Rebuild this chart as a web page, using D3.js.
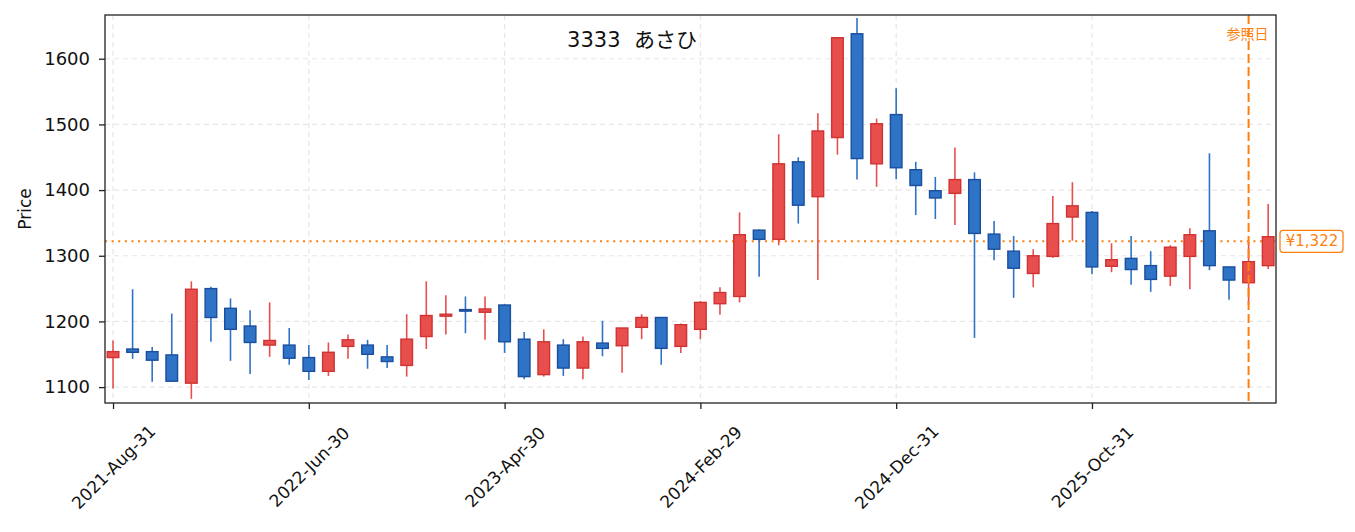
<!DOCTYPE html>
<html>
<head>
<meta charset="utf-8">
<script src="https://cdn.jsdelivr.net/npm/d3@7"></script>
<style>
  body { margin: 0; background: #fff; }
  svg text { font-family: "DejaVu Sans", "Noto Sans CJK JP", sans-serif; }
</style>
</head>
<body>
<div id="chart"></div>
<script>
// monthly candles, index 0 = 2021-Aug-31
const opens  = [1145,1158,1154,1149,1106,1250,1220,1193,1164,1164,1145,1124,1162,1164,1146,1133,1177,1208,1218,1214,
                1225,1173,1119,1164,1129,1167,1163,1191,1206,1162,1188,1227,1238,1339,1325,1443,1390,1480,1638,1440,
                1515,1431,1399,1395,1416,1333,1307,1273,1299,1359,1366,1284,1296,1285,1269,1299,1338,1283,1259,1285];
const highs  = [1171,1249,1161,1212,1261,1253,1235,1217,1229,1190,1164,1168,1180,1172,1164,1211,1261,1240,1238,1238,
                1226,1184,1188,1173,1177,1201,1190,1211,1206,1197,1231,1252,1366,1340,1485,1450,1517,1633,1662,1509,
                1555,1443,1420,1465,1427,1353,1330,1310,1391,1412,1368,1319,1330,1307,1316,1342,1456,1283,1321,1379];
const lows   = [1098,1143,1108,1109,1082,1169,1140,1120,1146,1134,1111,1117,1143,1128,1129,1116,1158,1180,1182,1172,
                1152,1112,1116,1117,1112,1147,1122,1173,1134,1152,1173,1210,1229,1268,1316,1349,1263,1454,1416,1405,
                1417,1362,1356,1347,1175,1293,1236,1252,1297,1323,1272,1275,1256,1245,1254,1249,1278,1233,1225,1280];
const closes = [1154,1153,1141,1109,1249,1206,1188,1168,1171,1144,1124,1153,1172,1150,1139,1173,1209,1211,1216,1219,
                1169,1116,1169,1129,1169,1159,1190,1206,1159,1195,1229,1244,1332,1325,1440,1377,1490,1632,1448,1501,
                1434,1407,1388,1416,1334,1310,1281,1300,1349,1376,1283,1294,1279,1264,1313,1332,1285,1263,1291,1329];

const tickIndex  = [0, 10, 20, 30, 40, 50];
const tickLabels = ["2021-Aug-31", "2022-Jun-30", "2023-Apr-30", "2024-Feb-29", "2024-Dec-31", "2025-Oct-31"];
const priceTicks = [1100, 1200, 1300, 1400, 1500, 1600];

const title = "3333  あさひ";
const refPrice = 1322;
const refIndex = 58;

const data = opens.map((o, i) => ({i: i, o: o, h: highs[i], l: lows[i], c: closes[i]}));

const W = 1355, H = 532;
const margin = {top: 15, right: 79, bottom: 129, left: 105};
const width = W - margin.left - margin.right,
      height = H - margin.top - margin.bottom;

const svg = d3.select("#chart").append("svg")
    .attr("width", W)
    .attr("height", H)
  .append("g")
    .attr("transform", `translate(${margin.left},${margin.top})`);

const x = d3.scaleLinear().domain([-0.41, 59.4]).range([0, width]);
const y = d3.scaleLinear().domain([1075.8, 1666.6]).range([height, 0]);

// grid
svg.append("g").selectAll("line").data(priceTicks).join("line")
    .attr("x1", 0).attr("x2", width)
    .attr("y1", d => y(d)).attr("y2", d => y(d))
    .attr("stroke", "#e6e6e6").attr("stroke-width", 1.2)
    .style("stroke-dasharray", "5,4");
svg.append("g").selectAll("line").data(tickIndex).join("line")
    .attr("y1", 0).attr("y2", height)
    .attr("x1", d => x(d)).attr("x2", d => x(d))
    .attr("stroke", "#e6e6e6").attr("stroke-width", 1.2)
    .style("stroke-dasharray", "5,4");

// reference price line
svg.append("line")
    .attr("x1", 0).attr("x2", width)
    .attr("y1", y(refPrice)).attr("y2", y(refPrice))
    .attr("stroke", "#ff7f0e").attr("stroke-width", 2)
    .style("stroke-dasharray", "2,4.6");

// candles
const upFill = "#e84f4c", upEdge = "#cf3333";
const dnFill = "#2e73c5", dnEdge = "#1a4e9e";
const bw = 11.6;

const candle = svg.append("g").selectAll("g").data(data).join("g");
candle.append("line")
    .attr("x1", d => x(d.i)).attr("x2", d => x(d.i))
    .attr("y1", d => y(d.h)).attr("y2", d => y(d.l))
    .attr("stroke", d => d.c >= d.o ? upFill : dnFill)
    .attr("stroke-width", 1.6);
candle.append("rect")
    .attr("x", d => x(d.i) - bw / 2)
    .attr("width", bw)
    .attr("y", d => y(Math.max(d.o, d.c)))
    .attr("height", d => Math.max(1.5, Math.abs(y(d.o) - y(d.c))))
    .attr("fill", d => d.c >= d.o ? upFill : dnFill)
    .attr("stroke", d => d.c >= d.o ? upEdge : dnEdge)
    .attr("stroke-width", 1.4);

// reference date line
svg.append("line")
    .attr("x1", x(refIndex)).attr("x2", x(refIndex))
    .attr("y1", 0).attr("y2", height)
    .attr("stroke", "#ff7f0e").attr("stroke-width", 2)
    .style("stroke-dasharray", "9,4");
svg.append("text")
    .attr("x", x(refIndex) - 1)
    .attr("y", 24)
    .attr("text-anchor", "middle")
    .attr("fill", "#ff7f0e")
    .style("font-size", "14px")
    .text("参照日");

// frame
svg.append("rect")
    .attr("width", width).attr("height", height)
    .attr("fill", "none").attr("stroke", "#222").attr("stroke-width", 1.3);

// axes
const xAxis = svg.append("g")
    .attr("transform", `translate(0,${height})`)
    .call(d3.axisBottom(x).tickValues(tickIndex).tickFormat((d, k) => tickLabels[k]).tickSize(6).tickPadding(4));
xAxis.select(".domain").remove();
xAxis.selectAll("line").attr("stroke", "#222").attr("stroke-width", 1.3);
xAxis.selectAll("text")
    .attr("y", 0).attr("dy", null)
    .attr("transform", "translate(0,64) rotate(-45)")
    .attr("text-anchor", "middle")
    .attr("dominant-baseline", "central")
    .attr("fill", "#111")
    .style("font-size", "17px");

const yAxis = svg.append("g")
    .call(d3.axisLeft(y).tickValues(priceTicks).tickFormat(d3.format("d")).tickSize(6).tickPadding(9));
yAxis.select(".domain").remove();
yAxis.selectAll("line").attr("stroke", "#222").attr("stroke-width", 1.3);
yAxis.selectAll("text").attr("fill", "#111").style("font-size", "18px");

// axis label
svg.append("text")
    .attr("transform", `translate(${25 - margin.left},${height / 2}) rotate(-90)`)
    .attr("text-anchor", "middle")
    .attr("dominant-baseline", "central")
    .attr("fill", "#111")
    .style("font-size", "17px")
    .text("Price");

// title
svg.append("text")
    .attr("x", 632 - margin.left)
    .attr("y", 32)
    .attr("text-anchor", "middle")
    .attr("fill", "#111")
    .style("font-size", "21px")
    .style("white-space", "pre")
    .text(title);

// price tag
const tag = svg.append("g")
    .attr("transform", `translate(${width + 4},${y(refPrice)})`);
tag.append("rect")
    .attr("x", 0).attr("y", -11)
    .attr("width", 63).attr("height", 22)
    .attr("rx", 3)
    .attr("fill", "#fff").attr("stroke", "#ff7f0e").attr("stroke-width", 1.3);
tag.append("text")
    .attr("x", 32).attr("y", 0)
    .attr("text-anchor", "middle")
    .attr("dominant-baseline", "central")
    .attr("fill", "#ff7f0e")
    .style("font-size", "15px")
    .text("¥" + d3.format(",")(refPrice));
</script>
</body>
</html>
